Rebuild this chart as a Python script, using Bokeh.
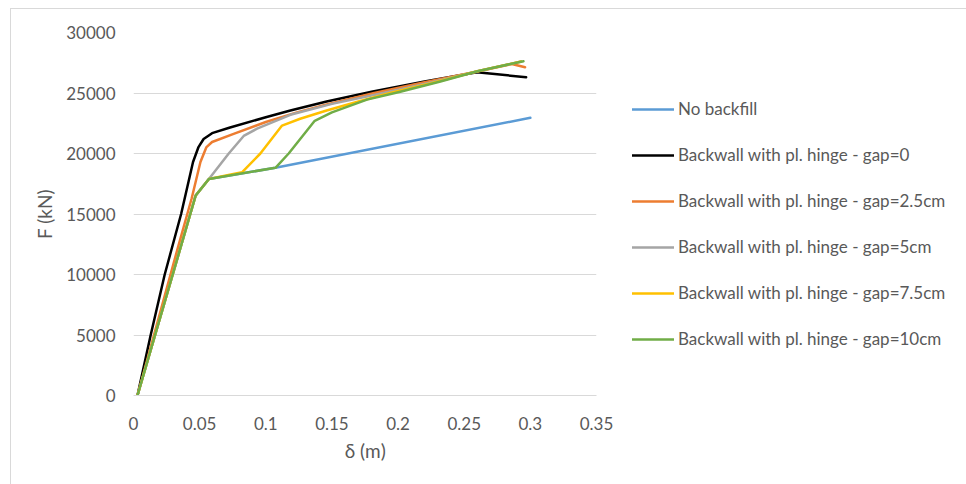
from bokeh.plotting import figure
from bokeh.models import Range1d, Legend, LegendItem, FixedTicker
from bokeh.embed import file_html
from bokeh.resources import INLINE

# ---- data (displacement in m, force in kN) ----
names = ["No backfill",
         "Backwall with pl. hinge - gap=0",
         "Backwall with pl. hinge - gap=2.5cm",
         "Backwall with pl. hinge - gap=5cm",
         "Backwall with pl. hinge - gap=7.5cm",
         "Backwall with pl. hinge - gap=10cm"]
colors = ["#5B9BD5", "#000000", "#ED7D31", "#A5A5A5", "#FFC000", "#70AD47"]

d_nobackfill = [0.003, 0.047, 0.057, 0.1073, 0.300]
f_nobackfill = [0, 16530, 17900, 18820, 22950]

d_gap0 = [0.003, 0.013, 0.0236, 0.036, 0.045, 0.0490, 0.0530, 0.0594, 0.073, 0.100, 0.1186, 0.146, 0.180, 0.220, 0.2596, 0.2968]
f_gap0 = [0, 5000, 10000, 15000, 19300, 20500, 21200, 21680, 22150, 23000, 23550, 24300, 25100, 25950, 26720, 26300]

d_gap25 = [0.003, 0.033, 0.044, 0.0506, 0.0550, 0.0594, 0.0757, 0.100, 0.1236, 0.146, 0.182, 0.220, 0.260, 0.286, 0.296]
f_gap25 = [0, 12000, 16300, 19300, 20500, 20950, 21620, 22600, 23400, 24050, 25000, 25900, 26780, 27400, 27130]

d_gap5 = [0.003, 0.047, 0.057, 0.072, 0.0833, 0.0934, 0.1186, 0.150, 0.189, 0.220, 0.260, 0.293]
f_gap5 = [0, 16530, 17900, 20000, 21450, 22050, 23200, 24100, 25000, 25750, 26800, 27600]

d_gap75 = [0.003, 0.047, 0.057, 0.082, 0.0959, 0.1123, 0.126, 0.146, 0.170, 0.194, 0.225, 0.260, 0.293]
f_gap75 = [0, 16530, 17900, 18450, 20000, 22310, 22870, 23550, 24300, 25000, 25800, 26800, 27600]

d_gap10 = [0.003, 0.047, 0.057, 0.1073, 0.1173, 0.137, 0.150, 0.1765, 0.2017, 0.232, 0.260, 0.2948]
f_gap10 = [0, 16530, 17900, 18820, 20000, 22700, 23400, 24450, 25100, 25950, 26800, 27630]

series = [(d_nobackfill, f_nobackfill), (d_gap0, f_gap0), (d_gap25, f_gap25),
          (d_gap5, f_gap5), (d_gap75, f_gap75), (d_gap10, f_gap10)]

x_ticks = [0, 0.05, 0.1, 0.15, 0.2, 0.25, 0.3, 0.35]
x_tick_labels = ["0", "0.05", "0.1", "0.15", "0.2", "0.25", "0.3", "0.35"]
y_ticks = [0, 5000, 10000, 15000, 20000, 25000, 30000]

FONT = "Lato"
TXT = "#595959"
GRID = "#D9D9D9"

p = figure(frame_width=463, frame_height=363, output_backend="svg", toolbar_location=None,
           x_range=Range1d(0, 0.35), y_range=Range1d(0, 30000),
           min_border_left=122, min_border_right=0, min_border_top=23, min_border_bottom=89)
p.outline_line_color = None
p.background_fill_color = "white"
p.border_fill_color = "white"
p.styles = {"margin-left": "10px", "margin-top": "8px",
            "border-left": "1px solid #D9D9D9", "border-top": "1px solid #D9D9D9"}

renderers = []
for (d, f), c in zip(series, colors):
    r = p.line(d, f, line_color=c, line_width=2.5, line_join="round", line_cap="round")
    renderers.append(r)

xa = p.xaxis[0]
ya = p.yaxis[0]
xa.ticker = FixedTicker(ticks=x_ticks)
xa.major_label_overrides = {t: l for t, l in zip(x_ticks, x_tick_labels)}
ya.ticker = FixedTicker(ticks=y_ticks)
for ax in (xa, ya):
    ax.major_tick_line_color = None
    ax.minor_tick_line_color = None
    ax.major_label_text_font = FONT
    ax.major_label_text_font_size = "17px"
    ax.major_label_text_color = TXT
    ax.axis_label_text_font = FONT
    ax.axis_label_text_font_size = "19px"
    ax.axis_label_text_color = TXT
    ax.axis_label_text_font_style = "normal"
ya.axis_line_color = None
xa.axis_line_color = GRID
xa.axis_line_width = 1
xa.major_label_standoff = 15
ya.major_label_standoff = 12
xa.axis_label = "δ (m)"
ya.axis_label = "F (kN)"
xa.axis_label_standoff = 6
ya.axis_label_standoff = 7

p.xgrid.grid_line_color = None
p.ygrid.grid_line_color = GRID
p.ygrid.grid_line_width = 1

legend = Legend(items=[LegendItem(label=n, renderers=[r]) for n, r in zip(names, renderers)],
                location="top_left", orientation="vertical",
                glyph_width=42, glyph_height=20, label_height=20, label_standoff=4,
                spacing=25, padding=0, margin=0,
                border_line_color=None, background_fill_alpha=0,
                label_text_font=FONT, label_text_font_size="17px", label_text_color=TXT)
legend.styles = {"margin-left": "36px", "margin-top": "66px"}
p.add_layout(legend, "right")

open("out.html", "w").write(file_html(p, INLINE))
